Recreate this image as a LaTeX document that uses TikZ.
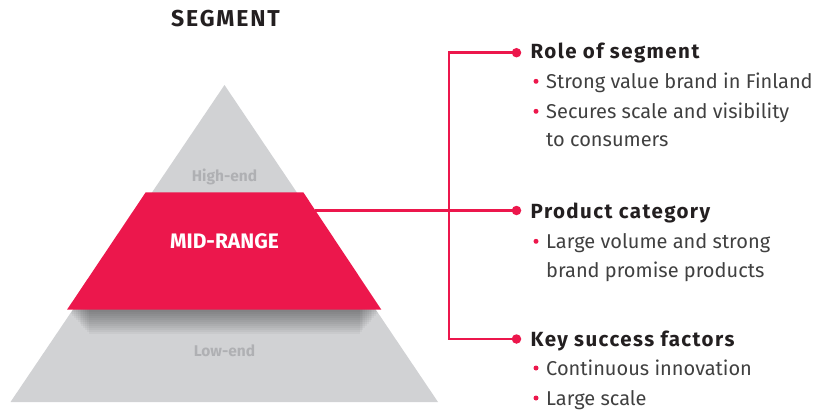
\documentclass[tikz,border=0pt]{standalone}
\usepackage{fontspec}
\setmainfont{Fira Sans}
\newfontfamily\headfont{Fira Sans}[LetterSpace=7]
\newfontfamily\titlefont{Fira Sans}[LetterSpace=8]
\definecolor{brandred}{HTML}{EC174C}
\definecolor{pyrgray}{HTML}{D1D2D4}
\definecolor{tiergray}{HTML}{AFB0B3}
\definecolor{headink}{HTML}{231F20}
\definecolor{bodyink}{HTML}{404040}
\begin{document}
\begin{tikzpicture}[x=1pt,y=-1pt,
  link/.style={draw=brandred,line width=2.4pt,line join=miter},
  bigdot/.style={circle,fill=brandred,inner sep=0pt,minimum size=9.5pt},
  smalldot/.style={circle,fill=brandred,inner sep=0pt,minimum size=5pt},
  heading/.style={anchor=base west,inner sep=0pt,font=\headfont\fontsize{20.5}{24}\selectfont\bfseries,text=headink},
  bodyline/.style={anchor=base west,inner sep=0pt,font=\fontsize{20}{24}\selectfont,text=bodyink},
  tier/.style={anchor=base,inner sep=0pt,font=\fontsize{15.5}{18}\selectfont\bfseries,text=tiergray},
]
\useasboundingbox (0,0) rectangle (824,412);

% title
\node[anchor=base,inner sep=0pt,font=\titlefont\fontsize{23}{26}\selectfont\bfseries,text=headink] (title) at (225.5,26.7) {SEGMENT};

% grey pyramid
\fill[pyrgray] (224.5,85) -- (438,402) -- (10.5,402) -- cycle;

% soft shadow under the highlighted tier
\begin{scope}
  \clip (224.5,85) -- (438,402) -- (10.5,402) -- cycle;
  \foreach \d in {2,4,...,24}{
    \fill[black,opacity=0.035] (67+0.9*\d,300) -- (381.3-0.9*\d,300) -- (381.3-0.9*\d,309.7+\d) -- (67+0.9*\d,309.7+\d) -- cycle;
  }
\end{scope}

% highlighted middle tier
\fill[brandred] (145.7,192.3) -- (303.3,192.3) -- (381.3,309.7) -- (67,309.7) -- cycle;

\node[tier] (high) at (224.5,181.7) {High-end};
\node[anchor=base,inner sep=0pt,font=\fontsize{21}{24}\selectfont\bfseries,text=white] (mid) at (224.5,248.3) {MID-RANGE};
\node[tier] (low) at (224.5,356) {Low-end};

% connector tree
\coordinate (midlink) at (315.3,210.5);
\coordinate (jt) at (449.2,52.7);
\coordinate (jb) at (449.2,339);
\node[bigdot] (d1) at (516.5,52.7) {};
\node[bigdot] (d2) at (516.5,210.5) {};
\node[bigdot] (d3) at (516.5,339) {};
\draw[link] (d1.center) -- (jt) -- (jb) -- (d3.center);
\draw[link] (midlink) -- (d2.center);

% role of segment
\node[heading] (h1) at (530.5,58.3) {Role of segment};
\node[smalldot] (b1) at (536,81.3) {};
\node[bodyline] (t1) at (546,88.3) {Strong value brand in Finland};
\node[smalldot] (b2) at (536,111.3) {};
\node[bodyline] (t2) at (546,118.3) {Secures scale and visibility};
\node[bodyline] (t3) at (546,146.7) {to consumers};

% product category
\node[heading] (h2) at (530.5,218.3) {Product category};
\node[smalldot] (b3) at (536,241.3) {};
\node[bodyline] (t4) at (546,248.3) {Large volume and strong};
\node[bodyline] (t5) at (546,277.3) {brand promise products};

% key success factors
\node[heading] (h3) at (530.5,346.7) {Key success factors};
\node[smalldot] (b4) at (536,368) {};
\node[bodyline] (t6) at (546,375) {Continuous innovation};
\node[smalldot] (b5) at (536,398) {};
\node[bodyline] (t7) at (546,405) {Large scale};
\end{tikzpicture}
\end{document}
